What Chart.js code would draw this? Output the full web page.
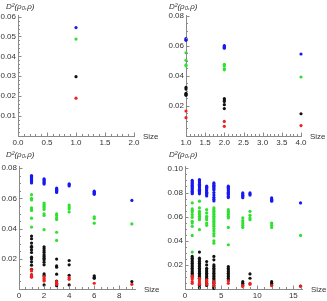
<!DOCTYPE html>
<html>
<head>
<meta charset="utf-8">
<script src="https://cdn.jsdelivr.net/npm/chart.js@4.4.0/dist/chart.umd.min.js"></script>
<style>
  body { margin: 0; background: #fff; }
  #wrap { position: relative; width: 327px; height: 301px; }
  canvas { position: absolute; }
</style>
</head>
<body>
<div id="wrap">
  <canvas id="c1" width="163" height="148" style="left:0;top:0"></canvas>
  <canvas id="c2" width="164" height="148" style="left:163px;top:0"></canvas>
  <canvas id="c3" width="163" height="153" style="left:0;top:148px"></canvas>
  <canvas id="c4" width="164" height="153" style="left:163px;top:148px"></canvas>
</div>
<script>
//Values grouped by size, one inner list per size
const p1Sizes = [1];
const p1Blue = [[0.0545]];
const p1Green = [[0.0487]];
const p1Black = [[0.0298]];
const p1Red = [[0.019]];

const p2Sizes = [1, 2, 4];
const p2Blue = [[0.0648, 0.0642, 0.0636], [0.0601, 0.0595, 0.0589, 0.0583], [0.0545]];
const p2Green = [[0.0553, 0.0503, 0.0472, 0.0466], [0.0476, 0.0467, 0.0448, 0.0440], [0.0392]];
const p2Black = [[0.0323, 0.0312, 0.0284, 0.0277, 0.0270], [0.0248, 0.0239, 0.0230, 0.0208, 0.0182], [0.0148]];
const p2Red = [[0.0166, 0.0122], [0.0097, 0.0064], [0.0069]];

const p3Sizes = [1, 2, 3, 4, 6, 9];
const p3Blue = [
    [0.0752, 0.0745, 0.0738, 0.0731, 0.0724, 0.0717, 0.0710, 0.0703],
    [0.0730, 0.0723, 0.0716, 0.0709, 0.0702, 0.0695],
    [0.0668, 0.0661, 0.0654, 0.0647, 0.0640],
    [0.0697, 0.0690, 0.0683],
    [0.0648, 0.0641, 0.0634, 0.0627],
    [0.0587]
];
const p3Green = [
    [0.0625, 0.0600, 0.0590, 0.0538, 0.0530, 0.0520, 0.0469, 0.0410],
    [0.0570, 0.0560, 0.0549, 0.0538, 0.0527, 0.0498, 0.0487, 0.0393],
    [0.0498, 0.0487, 0.0471, 0.0460, 0.0376, 0.0322],
    [0.0556, 0.0544, 0.0531, 0.0511],
    [0.0478, 0.0467, 0.0436],
    [0.0431]
];
const p3Black = [
    [0.0351, 0.0333, 0.0304, 0.0282, 0.0276, 0.0260, 0.0242, 0.0211, 0.0198, 0.0180, 0.0158, 0.0131, 0.0093, 0.0082],
    [0.0280, 0.0267, 0.0253, 0.0242, 0.0227, 0.0216, 0.0204, 0.0193, 0.0178, 0.0160, 0.0100, 0.0089, 0.0027],
    [0.0198, 0.0153, 0.0144, 0.0098, 0.0053, 0.0038, 0.0022],
    [0.0189, 0.0160, 0.0091, 0.0027],
    [0.0087, 0.0078, 0.0071],
    [0.0049]
];
const p3Red = [
    [0.0127, 0.0120, 0.0093, 0.0082, 0.0078],
    [0.0082, 0.0071, 0.0060, 0.0053],
    [0.0049, 0.0040, 0.0031],
    [0.0076, 0.0064],
    [0.0038],
    [0.0031]
];

const p4Sizes = [1, 2, 3, 4, 6, 8, 9, 12, 16];
const p4Blue = [
    [0.090, 0.089, 0.088, 0.087, 0.086, 0.085, 0.084, 0.083, 0.082, 0.081, 0.080, 0.079],
    [0.0908, 0.0898, 0.0888, 0.0878, 0.0868, 0.0858, 0.0848, 0.0838, 0.0828, 0.0818, 0.0808, 0.0798, 0.0789],
    [0.0853, 0.0843, 0.0833, 0.0823, 0.0813, 0.0803, 0.0793, 0.0782, 0.0772],
    [0.0880, 0.0870, 0.0860, 0.0850, 0.0840, 0.0830, 0.0820, 0.0800, 0.0780, 0.0760, 0.0745, 0.0730],
    [0.0853, 0.0843, 0.0833, 0.0823, 0.0813, 0.0803, 0.0793, 0.0783, 0.0770, 0.0758],
    [0.0797, 0.0787, 0.0777, 0.0767, 0.0757],
    [0.0797, 0.0788, 0.0779],
    [0.0755, 0.0745, 0.0736, 0.0728],
    [0.0714]
];
const p4Green = [
    [0.0714, 0.0664, 0.0650, 0.0639, 0.0617, 0.0594, 0.0561, 0.0547, 0.0520, 0.0444, 0.0306],
    [0.0728, 0.0672, 0.0644, 0.0631, 0.0617, 0.0603, 0.0589, 0.0575, 0.0492],
    [0.0658, 0.0631, 0.0603, 0.0589, 0.0575, 0.0547, 0.0528],
    [0.0672, 0.0658, 0.0644, 0.0630, 0.0617, 0.0603, 0.0589, 0.0575, 0.0561, 0.0547, 0.0533, 0.0520, 0.0500, 0.0480, 0.0460, 0.0440, 0.0400, 0.0380],
    [0.0658, 0.0644, 0.0630, 0.0617, 0.0603, 0.0589, 0.0511, 0.0367],
    [0.0589, 0.0567, 0.0547, 0.0528, 0.0511],
    [0.0644, 0.0611, 0.0589, 0.0575],
    [0.0547, 0.0528, 0.0511],
    [0.0444]
];
const p4Black = [
    [0.0270, 0.0256, 0.0242, 0.0228, 0.0214, 0.0200, 0.0186, 0.0172, 0.0158, 0.0144, 0.0131, 0.0117, 0.0103],
    [0.0306, 0.0256, 0.0242, 0.0228, 0.0214, 0.0200, 0.0186, 0.0172, 0.0158, 0.0144, 0.0130, 0.0117, 0.0103, 0.0090, 0.0030, 0.0010],
    [0.0228, 0.0200, 0.0172, 0.0158, 0.0144, 0.0130, 0.0117, 0.0103, 0.0090, 0.0075, 0.0061, 0.0047, 0.0030],
    [0.0270, 0.0242, 0.0200, 0.0186, 0.0172, 0.0158, 0.0144, 0.0130, 0.0117, 0.0103, 0.0090, 0.0075, 0.0060, 0.0047, 0.0030, 0.0015, 0.0005],
    [0.0186, 0.0172, 0.0158, 0.0144, 0.0130, 0.0117, 0.0103, 0.0089, 0.0075],
    [0.0061, 0.0047, 0.0033],
    [0.0125, 0.0089],
    [0.0061, 0.0047, 0.0033],
    [0.0025]
];
const p4Red = [
    [0.0108, 0.0094, 0.0083, 0.0061, 0.0047],
    [0.0089, 0.0075, 0.0061, 0.0047, 0.0039],
    [0.0075, 0.0061, 0.0039],
    [0.0061, 0.0047, 0.0028],
    [0.0067, 0.0047],
    [0.0028, 0.0019],
    [0.0047, 0.0039],
    [0.0028],
    [0.0022]
];

const yTitle = 'D\u00B2(\u03C1\u2080,\u03C1)';
const xTitle = 'Size';

//Mathematica-like inward ticks plus the two axis labels
const axisDeco = {
    id: 'axisDeco',
    afterDraw(chart, args, opts) {
        const ctx = chart.ctx;
        const a = chart.chartArea;
        const x = chart.scales.x;
        const y = chart.scales.y;
        ctx.save();
        ctx.strokeStyle = '#8a8a8a';
        ctx.lineWidth = 1;
        ctx.beginPath();
        const k0 = Math.ceil(x.min / opts.xMinor - 1e-6);
        const k1 = Math.floor(x.max / opts.xMinor + 1e-6);
        for (let k = k0; k <= k1; k++) {
            const v = k * opts.xMinor;
            const r = v / opts.xMajor;
            const len = Math.abs(r - Math.round(r)) < 1e-6 ? 3.5 : 2;
            const px = Math.round(x.getPixelForValue(v)) + 0.5;
            ctx.moveTo(px, a.bottom);
            ctx.lineTo(px, a.bottom - len);
        }
        const j1 = Math.floor(y.max / opts.yMinor + 1e-6);
        for (let k = 1; k <= j1; k++) {
            const v = k * opts.yMinor;
            const r = v / opts.yMajor;
            const len = Math.abs(r - Math.round(r)) < 1e-6 ? 3.5 : 2;
            const py = Math.round(y.getPixelForValue(v)) + 0.5;
            ctx.moveTo(a.left, py);
            ctx.lineTo(a.left + len, py);
        }
        ctx.stroke();

        ctx.fillStyle = '#333';
        ctx.textBaseline = 'middle';
        ctx.textAlign = 'left';
        ctx.font = 'italic 8px "Liberation Sans"';
        ctx.fillText(yTitle, 6, 7);
        ctx.font = '8px "Liberation Sans"';
        ctx.fillText(xTitle, a.right + 9, a.bottom + 1);
        ctx.restore();
    }
};

function points(sizes, groups) {
    return sizes.flatMap((s, i) => groups[i].map(v => ({ x: s, y: v })));
}

function renderPanel(id, sizes, blue, green, black, red, cfg) {
    const canvas = document.getElementById(id);
    const W = canvas.width;
    const H = canvas.height;
    const dot = (label, color, groups) => ({
        label: label,
        data: points(sizes, groups),
        backgroundColor: color,
        borderWidth: 0,
        pointRadius: 1.6,
        pointStyle: 'circle',
        clip: false
    });
    const tickFont = { family: '"Liberation Sans"', size: 8 };

    new Chart(canvas.getContext('2d'), {
        type: 'scatter',
        data: {
            datasets: [
                dot('red', '#ee2020', red),
                dot('black', '#111111', black),
                dot('green', '#30e030', green),
                dot('blue', '#1818f0', blue)
            ]
        },
        plugins: [axisDeco],
        options: {
            responsive: false,
            animation: false,
            events: [],
            layout: {
                padding: { left: 0, top: cfg.top, right: W - cfg.right, bottom: 0 }
            },
            scales: {
                x: {
                    type: 'linear',
                    min: cfg.xMin,
                    max: cfg.xMax,
                    grid: { display: false, drawTicks: false },
                    border: { display: true, color: '#8a8a8a', width: 1 },
                    ticks: {
                        stepSize: cfg.xMajor,
                        includeBounds: false,
                        maxRotation: 0,
                        autoSkip: false,
                        padding: 2,
                        color: '#333',
                        font: tickFont,
                        callback: v => v.toFixed(cfg.xDec)
                    },
                    afterFit: s => {
                        s.height = H - cfg.bottom;
                        s.paddingLeft = 0;
                        s.paddingRight = 0;
                    }
                },
                y: {
                    type: 'linear',
                    min: 0,
                    max: cfg.yMax,
                    grid: { display: false, drawTicks: false },
                    border: { display: true, color: '#8a8a8a', width: 1 },
                    ticks: {
                        stepSize: cfg.yMajor,
                        includeBounds: false,
                        autoSkip: false,
                        padding: 2,
                        color: '#333',
                        font: tickFont,
                        callback: v => (v === 0 ? '' : v.toFixed(2))
                    },
                    afterFit: s => {
                        s.width = cfg.left;
                        s.paddingTop = 0;
                        s.paddingBottom = 0;
                    }
                }
            },
            plugins: {
                legend: { display: false },
                tooltip: { enabled: false },
                axisDeco: {
                    xMajor: cfg.xMajor, xMinor: cfg.xMinor,
                    yMajor: cfg.yMajor, yMinor: cfg.yMinor
                }
            }
        }
    });
}

renderPanel('c1', p1Sizes, p1Blue, p1Green, p1Black, p1Red, {
    left: 18, right: 134, top: 15, bottom: 136,
    xMin: 0, xMax: 2, xMajor: 0.5, xMinor: 0.1, xDec: 1,
    yMax: 0.0608, yMajor: 0.01, yMinor: 0.002
});
renderPanel('c2', p2Sizes, p2Blue, p2Green, p2Black, p2Red, {
    left: 23, right: 138, top: 15, bottom: 136,
    xMin: 1, xMax: 4, xMajor: 0.5, xMinor: 0.1, xDec: 1,
    yMax: 0.0804, yMajor: 0.02, yMinor: 0.005
});
renderPanel('c3', p3Sizes, p3Blue, p3Green, p3Black, p3Red, {
    left: 19, right: 135, top: 18, bottom: 141,
    xMin: 0, xMax: 9.25, xMajor: 2, xMinor: 0.5, xDec: 0,
    yMax: 0.0815, yMajor: 0.02, yMinor: 0.005
});
renderPanel('c4', p4Sizes, p4Blue, p4Green, p4Black, p4Red, {
    left: 22, right: 139, top: 18, bottom: 141,
    xMin: 0, xMax: 16.2, xMajor: 5, xMinor: 1, xDec: 0,
    yMax: 0.102, yMajor: 0.02, yMinor: 0.005
});
</script>
</body>
</html>
